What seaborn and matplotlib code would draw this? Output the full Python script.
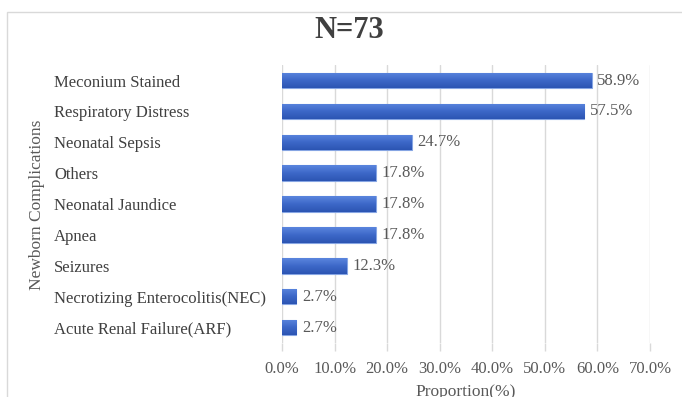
import matplotlib
matplotlib.use("Agg")
import matplotlib.pyplot as plt
import matplotlib.patches as mpatches
from matplotlib.colors import LinearSegmentedColormap
import numpy as np
import pandas as pd
import seaborn as sns

# data
complications = ["Meconium Stained", "Respiratory Distress", "Neonatal Sepsis", "Others",
                 "Neonatal Jaundice", "Apnea", "Seizures",
                 "Necrotizing Enterocolitis(NEC)", "Acute Renal Failure(ARF)"]
proportions = [58.9, 57.5, 24.7, 17.8, 17.8, 17.8, 12.3, 2.7, 2.7]
xticks = [0, 10, 20, 30, 40, 50, 60, 70]

df = pd.DataFrame({"Complication": complications, "Proportion": proportions})

sns.set_theme(style="white")
plt.rcParams["font.family"] = ["Liberation Serif", "DejaVu Serif"]

gray = "#595959"
fig = plt.figure(figsize=(6.82, 3.97), dpi=100)
ax = fig.add_axes([0.4135, 0.136, 0.5395, 0.700])

# light border round the chart area
fig.patches.append(mpatches.Rectangle((7 / 682, -0.1), 1.0, 1 - 12 / 397 + 0.1,
                                      transform=fig.transFigure, fill=False,
                                      edgecolor="#d9d9d9", linewidth=1.0))

sns.barplot(data=df, x="Proportion", y="Complication", color="#3d68c6",
            width=0.5, saturation=1, ax=ax, zorder=3,
            edgecolor="#86a5e3", linewidth=0.8)

# excel-like vertical gradient inside every bar (light top, dark bottom)
grad = LinearSegmentedColormap.from_list("bar", ["#2c55b3", "#3d68c8", "#5a85de"])
for bar in ax.patches:
    x0, y0 = bar.get_x(), bar.get_y()
    w, h = bar.get_width(), bar.get_height()
    im = ax.imshow(np.linspace(0, 1, 50).reshape(-1, 1), cmap=grad, aspect="auto",
                   extent=[x0, x0 + w, y0 + h, y0], origin="lower", zorder=3.5,
                   interpolation="bilinear")
    im.set_clip_path(bar)
ax.set_ylim(8.5, -0.5)

for bar, val in zip(ax.patches, proportions):
    ax.text(bar.get_width() + 1.1, bar.get_y() + bar.get_height() / 2,
            f"{val:.1f}%", va="center", ha="left", fontsize=12, color=gray,
            zorder=5)

ax.set_xlim(0, 70)
ax.set_xticks(xticks)
ax.set_xticklabels([f"{t:.1f}%" for t in xticks], fontsize=12, color=gray)
ax.xaxis.grid(True, color="#d9d9d9", linewidth=1.0, zorder=0)
ax.tick_params(axis="x", bottom=True, length=6, width=1, color="#d9d9d9", pad=7)
ax.tick_params(axis="y", left=False, pad=158)
for lab in ax.get_yticklabels():
    lab.set_ha("left")
    lab.set_fontsize(12)
    lab.set_color("#404040")
for s in ax.spines.values():
    s.set_visible(False)

ax.set_xlabel("Proportion(%)", fontsize=12.5, color=gray, labelpad=5)
ax.set_ylabel("")
fig.text(37 / 682, 1 - 205 / 397, "Newborn Complications", rotation=90, va="center",
         ha="center", fontsize=12.5, color=gray)
fig.text(349 / 682, 1 - 30 / 397, "N=73", ha="center", va="center",
         fontsize=22, fontweight="bold", color="#404040")

fig.savefig("out.png", dpi=100)
